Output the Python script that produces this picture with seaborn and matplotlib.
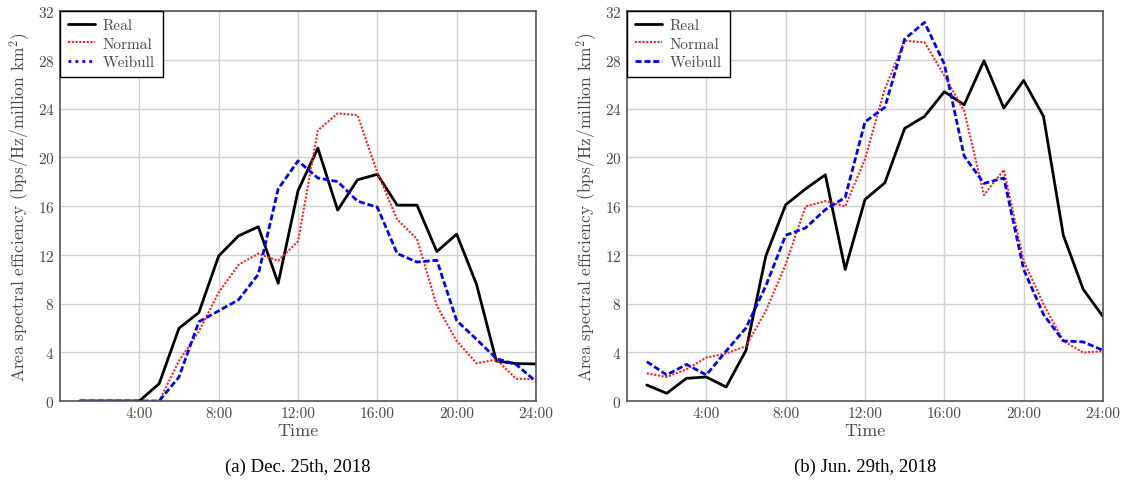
import matplotlib
matplotlib.use("Agg")
import matplotlib.pyplot as plt
import seaborn as sns
import pandas as pd

hours = list(range(1, 25))

dec_real = [0, 0, 0, 0, 1.42, 5.97, 7.25, 11.9, 13.55, 14.3, 9.66, 17.25,
            20.75, 15.66, 18.15, 18.6, 16.07, 16.07, 12.26, 13.69, 9.58, 3.28, 3.07, 3.04]
dec_normal = [0, 0, 0, 0, 0, 3.3, 5.7, 8.9, 11.17, 12.1, 11.5, 13.1,
              22.2, 23.6, 23.46, 18.75, 14.9, 13.3, 7.8, 4.93, 3.1, 3.4, 1.83, 1.78]
dec_weibull = [0, 0, 0, 0, 0, 1.97, 6.5, 7.4, 8.3, 10.4, 17.4, 19.7,
               18.3, 18.0, 16.4, 15.9, 12.1, 11.4, 11.55, 6.6, 5.06, 3.48, 3.0, 1.6]

jun_real = [1.31, 0.63, 1.86, 1.97, 1.15, 4.16, 11.9, 16.1, 17.4, 18.56, 10.8, 16.53,
            17.9, 22.37, 23.35, 25.38, 24.3, 27.92, 24.04, 26.3, 23.35, 13.6, 9.17, 6.93]
jun_normal = [2.27, 1.97, 2.6, 3.56, 3.9, 4.5, 7.4, 11.2, 15.96, 16.4, 15.96, 19.85,
              25.6, 29.56, 29.43, 26.7, 23.8, 16.9, 18.97, 11.5, 7.94, 4.93, 3.97, 4.1]
jun_weibull = [3.23, 2.14, 3.0, 2.14, 4.1, 6.0, 9.44, 13.6, 14.2, 15.7, 16.7, 22.9,
               24.1, 29.7, 31.07, 27.65, 20.1, 17.85, 18.3, 10.8, 7.1, 4.93, 4.85, 4.16]

series_names = ["Real", "Normal", "Weibull"]
xtick_values = [4, 8, 12, 16, 20, 24]
xtick_labels = ["4:00", "8:00", "12:00", "16:00", "20:00", "24:00"]
ytick_values = [0, 4, 8, 12, 16, 20, 24, 28, 32]
captions = ["(a) Dec. 25th, 2018", "(b) Jun. 29th, 2018"]

sns.set_theme(style="whitegrid")
plt.rcParams.update({
    "font.family": ["cmr10", "DejaVu Serif"],
    "mathtext.fontset": "cm",
    "axes.unicode_minus": False,
    "axes.formatter.use_mathtext": True,
    "grid.color": "#d0d0d0",
    "grid.linewidth": 1.0,
    "axes.edgecolor": "#555555",
    "axes.linewidth": 1.2,
})

text_grey = "#4a4a4a"
styles = {
    "Real": dict(color="black", linestyle="-", linewidth=2.0),
    "Normal": dict(color="#ff2020", linestyle=(0, (1, 0.8)), linewidth=1.5),
    "Weibull": dict(color="#0000ff", linestyle=(0, (2.2, 1.0)), linewidth=2.0),
}

fig = plt.figure(figsize=(11.24, 4.85), dpi=100)
ax_l = fig.add_axes([60 / 1124, 1 - 402 / 485, 476 / 1124, 390 / 485])
ax_r = fig.add_axes([627 / 1124, 1 - 402 / 485, 476 / 1124, 390 / 485])

datasets = [
    (ax_l, [dec_real, dec_normal, dec_weibull]),
    (ax_r, [jun_real, jun_normal, jun_weibull]),
]

for idx, ((ax, values), caption) in enumerate(zip(datasets, captions)):
    df = pd.DataFrame({"hour": hours})
    for name, vals in zip(series_names, values):
        df[name] = vals
    for name in series_names:
        sns.lineplot(data=df, x="hour", y=name, ax=ax, label=name, **styles[name])
    ax.set_xlim(0, 24)
    ax.set_ylim(0, 32)
    ax.set_xticks(xtick_values)
    ax.set_xticklabels(xtick_labels)
    ax.set_yticks(ytick_values)
    ax.tick_params(axis="both", labelsize=11, colors=text_grey, length=0, pad=4)
    ax.set_xlabel("Time", fontsize=13, color=text_grey, labelpad=2)
    ax.set_ylabel("Area spectral efficiency (bps/Hz/million km$^2$)",
                  fontsize=12.5, color=text_grey, labelpad=4)
    for spine in ax.spines.values():
        spine.set_visible(True)
        spine.set_color("#555555")
    leg = ax.legend(loc="upper left", fontsize=11, frameon=True, fancybox=False,
                    borderaxespad=0, handlelength=1.8, borderpad=0.5,
                    labelspacing=0.3, handletextpad=0.5)
    leg.get_frame().set_edgecolor("black")
    leg.get_frame().set_linewidth(1.0)
    leg.get_frame().set_alpha(1.0)
    for t in leg.get_texts():
        t.set_color(text_grey)
    if idx == 0:
        # the first panel's legend shows the Weibull key as a dotted line
        leg.get_lines()[2].set_linestyle((0, (1, 1.5)))
    pos = ax.get_position()
    fig.text(pos.x0 + pos.width / 2, 1 - 467 / 485, caption, ha="center", va="center",
             fontsize=13.5, family="Liberation Serif", color="black")

fig.savefig("out.png", dpi=100)
